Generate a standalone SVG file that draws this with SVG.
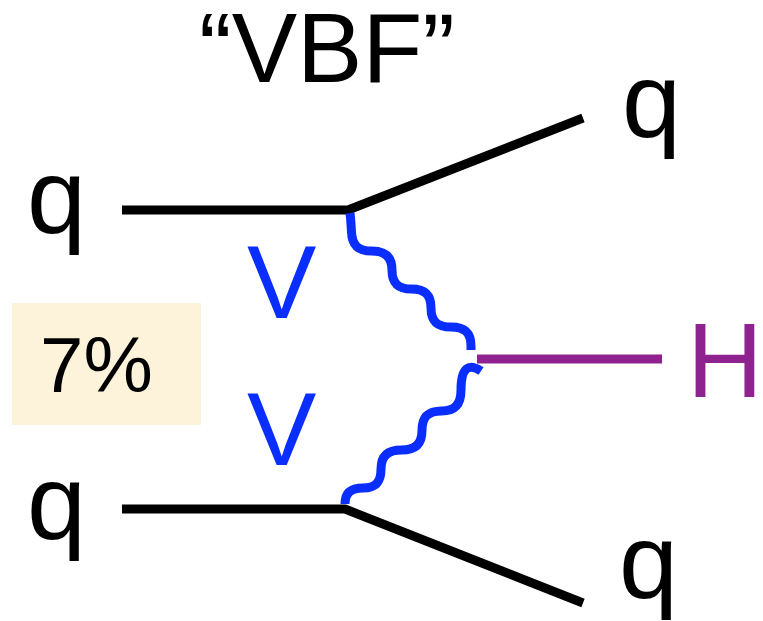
<svg xmlns="http://www.w3.org/2000/svg" width="763" height="621" viewBox="0 0 763 621">
  <style>
    .t { font-family: "Liberation Sans", Arial, sans-serif; }
    .q { font-size: 106px; fill: #000; }
    .v { font-size: 104px; fill: #0A2EFF; }
    .quark { fill: none; stroke: #000; stroke-width: 9; stroke-linejoin: round; }
    .boson { fill: none; stroke: #0A2EFF; stroke-width: 9; }
    .higgs { fill: none; stroke: #8E2390; stroke-width: 9; }
  </style>
  <rect width="763" height="621" fill="#fff"/>
  <g id="title"><text class="t" x="327" y="82" font-size="98" text-anchor="middle">“VBF”</text></g>
  <g id="connectors">
    <path id="q-upper" class="quark" d="M122,210 L348,210 L583,118"/>
    <path id="q-lower" class="quark" d="M122,509 L345,509 L583,603"/>
    <path id="V-upper" class="boson" d="M350,213 C351,220 351,226 351.5,232 C352,245 358,251 371.5,251 C385,251 392,257 392,270 C392,283 398,289 411.5,289 C425,289 431,295 431,308 C431,321 437,327 451,327 C465,327 471,333 471,346 L471,350"/>
    <path id="V-lower" class="boson" d="M481,371 C469,363 461,367 461,390 C461,404 455,411 441.5,411 C428,411 422,417 422,430.5 C422,444 415,450 401.5,450 C388,450 381,456 381,469 C381,482 376,488 363,488 C351,488 345,493 345,504"/>
    <path id="H-line" class="higgs" d="M477,359 L662,359"/>
  </g>
  <g id="q-in-top"><text class="t q" x="27" y="233">q</text></g>
  <g id="q-in-bottom"><text class="t q" x="27" y="539">q</text></g>
  <g id="q-out-top"><text class="t q" x="622" y="137">q</text></g>
  <g id="q-out-bottom"><text class="t q" x="619" y="598">q</text></g>
  <g id="V-top"><text class="t v" x="247" y="318">V</text></g>
  <g id="V-bottom"><text class="t v" x="247" y="465">V</text></g>
  <g id="H"><text class="t" x="687" y="397" font-size="105" fill="#8E2390">H</text></g>
  <g id="fraction">
    <rect x="12" y="303" width="189" height="122" fill="#FDF2DA"/>
    <text class="t" x="40" y="392" font-size="78">7%</text>
  </g>
</svg>
